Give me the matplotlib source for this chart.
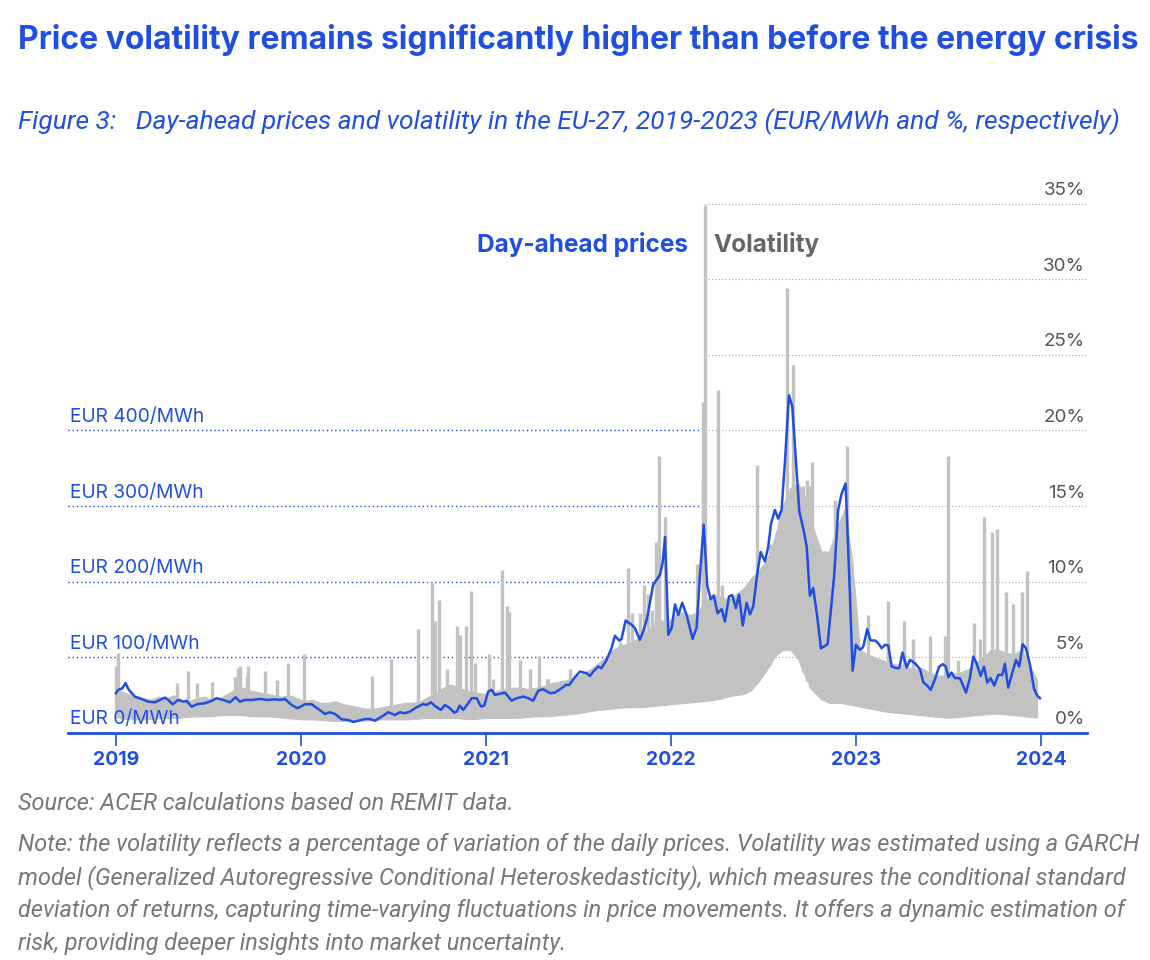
import numpy as np
import matplotlib.pyplot as plt

# day-ahead price (EUR/MWh), x in decimal years
price_t = [2019.000, 2019.012, 2019.034, 2019.052, 2019.070, 2019.103, 2019.139, 2019.175,
           2019.211, 2019.238, 2019.265, 2019.283, 2019.306, 2019.337, 2019.364, 2019.382,
           2019.409, 2019.445, 2019.481, 2019.517, 2019.544, 2019.580, 2019.616, 2019.647,
           2019.670, 2019.697, 2019.734, 2019.778, 2019.823, 2019.859, 2019.886, 2019.914,
           2019.950, 2019.982,
           2020.022, 2020.058, 2020.094, 2020.130, 2020.157, 2020.184, 2020.220, 2020.256,
           2020.283, 2020.310, 2020.346, 2020.373, 2020.400, 2020.436, 2020.472, 2020.508,
           2020.535, 2020.562, 2020.589, 2020.616, 2020.661, 2020.679, 2020.703, 2020.724,
           2020.757, 2020.778, 2020.805, 2020.829, 2020.842, 2020.859, 2020.877, 2020.904,
           2020.923, 2020.950, 2020.973, 2020.991,
           2021.012, 2021.031, 2021.049, 2021.066, 2021.103, 2021.139, 2021.166, 2021.202,
           2021.229, 2021.256, 2021.283, 2021.310, 2021.346, 2021.373, 2021.409, 2021.432,
           2021.450, 2021.481, 2021.508, 2021.544, 2021.562, 2021.580, 2021.607, 2021.625,
           2021.652, 2021.679, 2021.697, 2021.721, 2021.733, 2021.755, 2021.788, 2021.805,
           2021.832, 2021.850, 2021.869, 2021.886, 2021.904, 2021.923, 2021.941, 2021.955,
           2021.968, 2021.986,
           2022.004, 2022.022, 2022.040, 2022.061, 2022.085, 2022.117, 2022.139, 2022.157,
           2022.177, 2022.196, 2022.215, 2022.232, 2022.252, 2022.274, 2022.292, 2022.314,
           2022.331, 2022.351, 2022.368, 2022.388, 2022.409, 2022.427, 2022.445, 2022.466,
           2022.485, 2022.508, 2022.526, 2022.541, 2022.562, 2022.580, 2022.598, 2022.616,
           2022.638, 2022.656, 2022.676, 2022.694, 2022.716, 2022.734, 2022.751, 2022.769,
           2022.791, 2022.811, 2022.847, 2022.882, 2022.904, 2022.922, 2022.944, 2022.964,
           2022.982,
           2023.000, 2023.022, 2023.039, 2023.061, 2023.079, 2023.103, 2023.120, 2023.139,
           2023.157, 2023.175, 2023.193, 2023.220, 2023.234, 2023.252, 2023.274, 2023.292,
           2023.319, 2023.346, 2023.364, 2023.385, 2023.404, 2023.427, 2023.450, 2023.469,
           2023.486, 2023.499, 2023.517, 2023.535, 2023.562, 2023.580, 2023.595, 2023.616,
           2023.634, 2023.652, 2023.674, 2023.692, 2023.710, 2023.728, 2023.748, 2023.769,
           2023.791, 2023.805, 2023.823, 2023.847, 2023.865, 2023.883, 2023.901, 2023.919,
           2023.941, 2023.962, 2023.980, 2023.995]
price_eur = [52.6, 57, 59, 66, 57, 48, 45, 41.5,
             40.6, 43.7, 46.8, 43.7, 38, 43.7, 41.5, 42.4,
             35, 38.4, 39.3, 42.4, 46, 43.7, 40.6, 47.3,
             41.5, 43.7, 43.7, 45, 43.7, 44.6, 43.7, 45,
             37, 32.7,
             38, 38, 31.8, 25.2, 27.4, 25.2, 18.1, 17.2,
             14.6, 16.3, 18.5, 18.5, 16.3, 21.6, 27.4, 23.8,
             27.4, 26.1, 28.2, 32.7, 38.4, 37, 40.6, 35.8,
             30.5, 37, 32.7, 26.9, 28.2, 36.2, 30.5, 39.3,
             46, 46, 35, 36.2,
             54.7, 57, 50.3, 51.3, 53.4, 42.8, 46, 48.1,
             46, 42.8, 56, 57.9, 52.6, 53.4, 59.2, 63.6,
             63.6, 73.8, 81.2, 79.1, 75.5, 81.2, 87.8, 85.7,
             96.7, 112.2, 128.5, 122.3, 124.1, 148.7, 143, 138.7,
             123.2, 134.2, 149.7, 171.8, 196, 202.6, 209.3, 224.8,
             259.2, 130,
             139, 170, 156, 172.2, 155.9, 124.5, 139.7, 209.3,
             275.5, 195.4, 176.8, 181.5, 158.3, 163.8, 147.5, 180.5,
             182.4, 165.2, 182.8, 142, 172.2, 156.8, 167.5, 209.3,
             239.3, 226.9, 246.4, 276.4, 295, 283.4, 295, 357.6,
             446.6, 431.8, 357.6, 292.7, 269.5, 246.4, 181.5, 191.6,
             153.6, 111.9, 117.5, 206.9, 295, 315.9, 329.8, 207,
             82.5,
             116.6, 110, 113.5, 137.3, 122.3, 122.3, 118.8, 112.2,
             116.6, 115.6, 87.8, 85.7, 85.7, 106.4, 86.5, 96.7,
             92.3, 84.4, 67.2, 62.7, 57, 71.1, 87.8, 91,
             87.8, 73.8, 79.9, 72.5, 72.5, 62.3, 53.4, 72.5,
             101.1, 92.3, 75.5, 87.8, 66.6, 72.5, 62.7, 76.8,
             76.8, 91.4, 60, 81.2, 96.7, 87.8, 117.5, 112.2,
             90, 59.2, 49.4, 46]

# volatility (%): dense daily band, top edge per half month, bottom edge per month
vol_top = [2.8, 2.6, 2.4, 2.3, 2.2, 2.4, 2.3, 2.5, 2.2, 2.1, 2.3, 2.4,
           2.2, 2.3, 2.6, 2.9, 3.0, 2.8, 2.7, 2.6, 2.5, 2.4, 2.5, 2.3,
           2.1, 2.2, 2.0, 2.0, 2.1, 1.9, 1.8, 1.7, 1.6, 1.6, 1.7, 1.8,
           1.9, 2.0, 2.0, 2.1, 2.4, 2.6, 3.0, 3.2, 3.0, 2.8, 2.7, 2.6,
           2.6, 2.8, 2.9, 3.0, 3.0, 2.9, 3.0, 3.1, 3.3, 3.4, 3.5, 3.7,
           3.9, 4.2, 4.6, 5.0, 5.5, 5.8, 5.9, 6.2, 6.5, 7.0, 7.5, 7.3,
           7.8, 8.0, 7.8, 8.0, 8.8, 9.2, 9.0, 8.8, 9.2, 9.6, 10.3, 10.8,
           11.5, 13.0, 15.0, 16.2, 16.5, 15.5, 13.5, 12.0, 12.0, 13.5, 14.8, 11.5,
           5.5, 5.2, 5.0, 4.8, 4.6, 4.5, 4.4, 4.2, 4.3, 4.0, 3.8, 3.8,
           3.9, 4.0, 4.2, 4.6, 5.0, 5.5, 5.5, 5.3, 5.2, 5.5, 4.5, 3.5]
vol_low = [1.0, 0.9, 0.9, 1.0, 1.0, 1.1, 1.1, 1.2, 1.2, 1.1, 1.1, 1.0,
           0.9, 0.9, 0.8, 0.8, 0.8, 0.9, 0.9, 0.9, 1.0, 1.0, 1.0, 0.9,
           1.0, 1.0, 1.0, 1.1, 1.1, 1.2, 1.3, 1.5, 1.6, 1.7, 1.7, 1.8,
           1.9, 2.0, 2.1, 2.2, 2.5, 2.6, 3.8, 5.5, 5.5, 3.0, 2.0, 2.0,
           1.8, 1.6, 1.4, 1.3, 1.2, 1.1, 1.0, 1.1, 1.2, 1.3, 1.2, 1.1, 1.0]

# single-day spikes above the band
spike_t = [2019.000, 2019.012, 2019.328, 2019.391, 2019.436, 2019.517, 2019.643, 2019.661,
           2019.670, 2019.706, 2019.715, 2019.805, 2019.869, 2019.931,
           2020.016, 2020.385, 2020.485, 2020.631, 2020.706, 2020.724, 2020.748, 2020.788,
           2020.842, 2020.859, 2020.890, 2020.917, 2020.941,
           2021.016, 2021.038, 2021.085, 2021.112, 2021.124, 2021.184, 2021.238, 2021.288,
           2021.328, 2021.337, 2021.454, 2021.562, 2021.625, 2021.679, 2021.724, 2021.769,
           2021.788, 2021.832, 2021.856, 2021.877, 2021.896, 2021.919, 2021.935, 2021.968,
           2022.004, 2022.139, 2022.171, 2022.174, 2022.184, 2022.256, 2022.274, 2022.328,
           2022.373, 2022.427, 2022.466, 2022.535, 2022.589, 2022.607, 2022.625, 2022.658,
           2022.715, 2022.735, 2022.751, 2022.761, 2022.818, 2022.886, 2022.923, 2022.950,
           2022.986,
           2023.066, 2023.174, 2023.259, 2023.310, 2023.400, 2023.481, 2023.499, 2023.553,
           2023.638, 2023.670, 2023.694, 2023.734, 2023.761, 2023.809, 2023.847, 2023.896,
           2023.926]
spike_pct = [4.4, 5.3, 3.3, 4.1, 3.3, 3.4, 3.7, 4.3,
             4.4, 3.8, 4.4, 4.1, 3.5, 4.6,
             5.2, 3.8, 4.9, 6.9, 10.0, 7.4, 8.8, 4.2,
             7.1, 6.5, 7.1, 9.4, 4.6,
             5.2, 3.6, 10.8, 8.4, 8.0, 4.8, 4.2, 5.1,
             3.6, 3.6, 4.2, 4.1, 4.1, 4.6, 6.0, 10.9,
             7.9, 7.9, 9.8, 9.2, 8.1, 12.6, 18.3, 14.3,
             6.6, 11.2, 16.7, 21.9, 34.9, 22.7, 9.8, 9.0,
             9.2, 9.9, 17.7, 12.5, 14.7, 13.9, 29.4, 24.3,
             16.3, 16.7, 16.3, 17.9, 11.3, 15.4, 13.9, 19.0,
             7.3,
             7.8, 8.7, 7.4, 6.2, 6.4, 6.4, 18.3, 4.8,
             7.3, 6.2, 14.3, 13.3, 13.5, 9.3, 8.5, 9.3,
             10.7]

years = [2019, 2020, 2021, 2022, 2023, 2024]
pct_ticks = [0, 5, 10, 15, 20, 25, 30, 35]
eur_ticks = [0, 100, 200, 300, 400]

BLUE = '#1f4fe0'
GREY = '#c2c2c2'
TXT_GREY = '#666666'
plt.rcParams['font.family'] = ['Inter', 'DejaVu Sans']

fig = plt.figure(figsize=(11.5, 9.6), dpi=100)
ax = fig.add_axes([68/1150, (960-733)/960, (1087-68)/1150, (733-196)/960])
ax.set_xlim(2018.741, 2024.249)
ax.set_ylim(0, 35.5)

# volatility band + spikes (spikes rise from the band's lower edge)
top_t = 2019 + (np.arange(len(vol_top)) + 0.5) / 24
low_t = 2019 + np.arange(len(vol_low)) / 12
ax.fill_between(top_t, np.interp(top_t, low_t, vol_low), vol_top, color=GREY, lw=0.8, zorder=2)
ax.vlines(spike_t, np.interp(spike_t, low_t, vol_low), spike_pct, color=GREY, lw=2.4, zorder=2)

# price on twin axis (EUR 100 = 5%)
ax2 = ax.twinx()
ax2.set_ylim(0, 35.5 * 20)
ax2.plot(price_t, price_eur, color=BLUE, lw=1.8, zorder=3)
ax2.axis('off')

# gridlines: blue dotted on the left, grey dotted on the right
ytr = ax.get_yaxis_transform()
for p in pct_ticks[1:]:
    if p <= 20:
        ax.plot([0, 0.62], [p, p], transform=ytr, color=BLUE, lw=1, ls=(0, (1, 2)), zorder=1)
    ax.plot([0.625, 1], [p, p], transform=ytr, color='#aaaaaa', lw=0.8, ls=(0, (1, 2)), zorder=1)

for e in eur_ticks:
    ax.text(0.002, e / 20 + 0.3, f'EUR {e}/MWh', transform=ytr, color=BLUE,
            fontsize=13.8, ha='left', va='bottom', zorder=4)
for p in pct_ticks:
    ax.text(0.998, p + 0.3, f'{p}%', transform=ytr, color='#555555',
            fontsize=13.5, ha='right', va='bottom', zorder=4)

for s in ['top', 'right', 'left']:
    ax.spines[s].set_visible(False)
ax.spines['bottom'].set_color(BLUE)
ax.spines['bottom'].set_linewidth(2)
ax.set_yticks([])
ax.set_xticks(years)
ax.set_xticklabels([str(y) for y in years], fontsize=14, fontweight='bold', color=BLUE)
ax.tick_params(axis='x', colors=BLUE, length=9, width=1.2, pad=4)

# series labels
fig.text(688/1150, 1 - 245/960, 'Day-ahead prices', color=BLUE, fontsize=17.5,
         fontweight='bold', ha='right', va='center')
fig.text(713/1150, 1 - 245/960, 'Volatility', color=TXT_GREY, fontsize=17.5,
         fontweight='bold', ha='left', va='center')

fig.text(18/1150, 1 - 40/960, 'Price volatility remains significantly higher than before the energy crisis',
         color=BLUE, fontsize=23, fontweight='bold', ha='left', va='center')
fig.text(18/1150, 1 - 122/960,
         'Figure 3:   Day-ahead prices and volatility in the EU-27, 2019-2023 (EUR/MWh and %, respectively)',
         color=BLUE, fontsize=19, style='italic', ha='left', va='center', family=['Roboto'])

foot = ['Note: the volatility reflects a percentage of variation of the daily prices. Volatility was estimated using a GARCH',
        'model (Generalized Autoregressive Conditional Heteroskedasticity), which measures the conditional standard',
        'deviation of returns, capturing time-varying fluctuations in price movements. It offers a dynamic estimation of',
        'risk, providing deeper insights into market uncertainty.']
fig.text(18/1150, 1 - 803/960, 'Source: ACER calculations based on REMIT data.', color='#777777',
         fontsize=16.9, style='italic', ha='left', va='center', family=['Roboto'])
for i, line in enumerate(foot):
    fig.text(18/1150, 1 - (845 + 32.7*i)/960, line, color='#777777', fontsize=16.9,
             style='italic', ha='left', va='center', family=['Roboto'])

fig.savefig('out.png', dpi=100)
